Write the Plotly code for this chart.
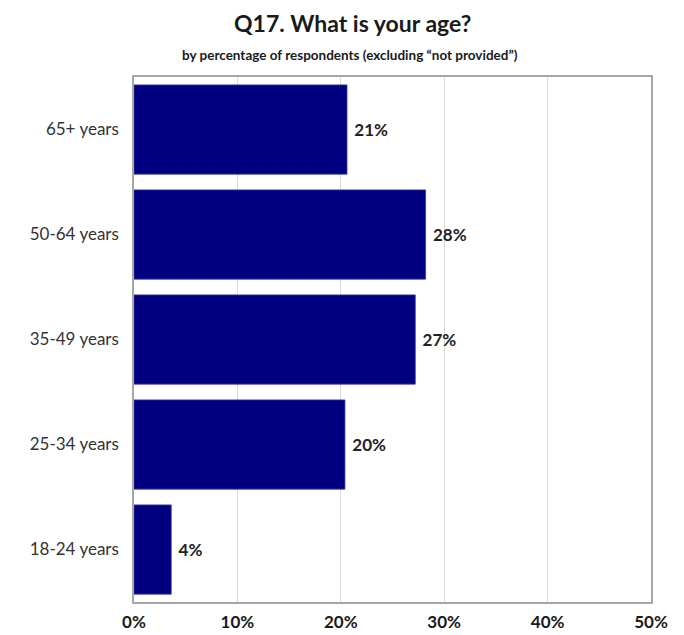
import plotly.graph_objects as go

categories = ["18-24 years", "25-34 years", "35-49 years", "50-64 years", "65+ years"]
values = [3.6, 20.4, 27.2, 28.2, 20.6]
labels = ["4%", "20%", "27%", "28%", "21%"]
tick_vals = [0, 10, 20, 30, 40, 50]
tick_text = ["0%", "10%", "20%", "30%", "40%", "50%"]

font_family = "Lato, Open Sans, DejaVu Sans, sans-serif"

# page body has an 8px margin, so plot area offsets are compensated
fig = go.Figure(go.Bar(
    y=categories, x=values, orientation="h",
    marker=dict(color="#000080", line=dict(color="#3a3a9a", width=0.8)),
    text=labels, textposition="outside", cliponaxis=False,
    textfont=dict(family=font_family, size=17, color="#222222"),
    texttemplate="\u00a0<b>%{text}</b>",
))

fig.update_layout(
    width=684, height=635,
    margin=dict(l=126, r=41, t=69, b=41),
    paper_bgcolor="white", plot_bgcolor="white",
    bargap=0.15, showlegend=False,
    annotations=[
        dict(text="<b>Q17. What is your age?</b>", xref="paper", yref="paper",
             x=(352 - 134) / 517, y=1 + (77 - 23) / 525, xanchor="center", yanchor="middle",
             showarrow=False, font=dict(family=font_family, size=23, color="#1a1a1a")),
        dict(text="<b>by percentage of respondents (excluding \u201cnot provided\u201d)</b>",
             xref="paper", yref="paper",
             x=(350 - 134) / 517, y=1 + (77 - 55) / 525, xanchor="center", yanchor="middle",
             showarrow=False, font=dict(family=font_family, size=13.5, color="#1a1a1a")),
    ],
)

fig.update_xaxes(
    range=[0, 50], tickvals=tick_vals, ticktext=[f"<b>{t}</b>" for t in tick_text],
    showgrid=True, gridcolor="#d9d9d9", gridwidth=1,
    showline=True, linecolor="#a6a6a6", linewidth=1.5, mirror=True,
    zeroline=False, ticks="", ticklabelstandoff=4,
    tickfont=dict(family=font_family, size=17, color="#1a1a1a"),
    fixedrange=True,
)
fig.update_yaxes(
    showline=True, linecolor="#a6a6a6", linewidth=1.5, mirror=True,
    showgrid=False, ticks="", ticklabelstandoff=10,
    tickfont=dict(family=font_family, size=17, color="#333333"),
    fixedrange=True,
)

fig.write_html("out.html")
